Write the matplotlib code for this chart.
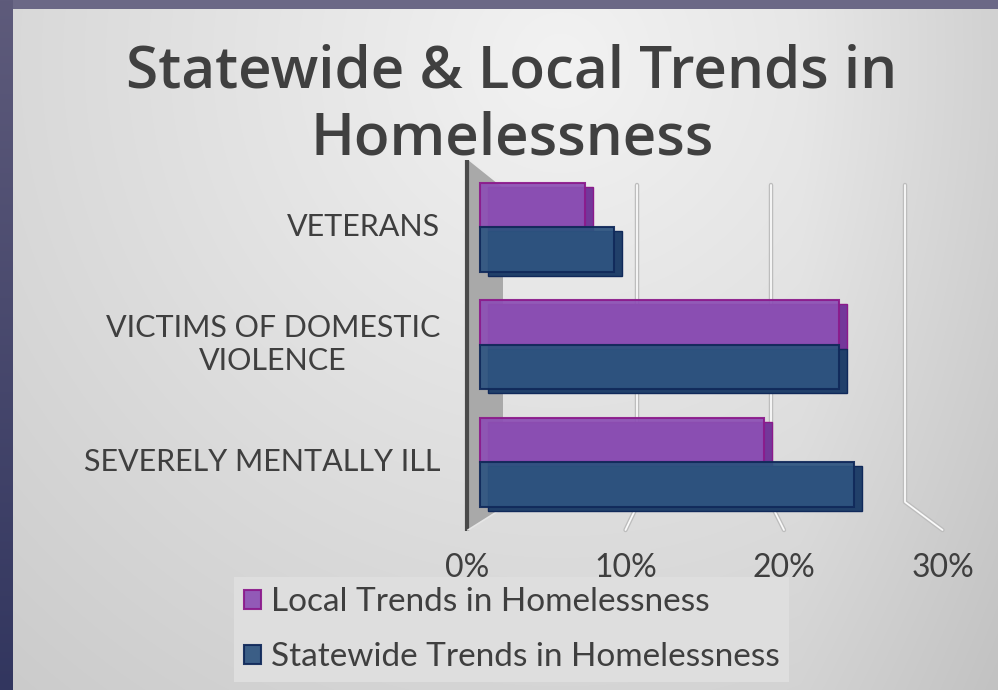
import numpy as np
import matplotlib
matplotlib.use("Agg")
import matplotlib.pyplot as plt
from matplotlib.patches import Rectangle, Polygon

# ---------------- data ----------------
categories = ["VETERANS", "VICTIMS OF DOMESTIC\nVIOLENCE", "SEVERELY MENTALLY ILL"]
local_vals = [7, 24, 19]        # Local Trends in Homelessness (%)
state_vals = [9, 24, 25]        # Statewide Trends in Homelessness (%)
tick_vals = [0, 10, 20, 30]
tick_labels = ["0%", "10%", "20%", "30%"]
series_names = ["Local Trends in Homelessness", "Statewide Trends in Homelessness"]
title = "Statewide & Local Trends in\nHomelessness"

# ---------------- figure ----------------
W, H = 998, 690
fig = plt.figure(figsize=(W / 100, H / 100), dpi=100)

# background (slide)
bg = fig.add_axes([0, 0, 1, 1])
bg.set_xlim(0, W)
bg.set_ylim(H, 0)
bg.axis("off")
yy, xx = np.mgrid[0:H, 0:W]
d = np.sqrt(((xx - 560) / 600.0) ** 2 + ((yy - 60) / 600.0) ** 2)
v = 0.95 - 0.11 * d - 0.05 * np.clip((xx - 800) / 200.0, 0, 1)
img = np.dstack([v, v, v])
bg.imshow(img, extent=[0, W, H, 0], aspect="auto", zorder=0)
# top strip
bg.add_patch(Rectangle((0, 0), W, 9, facecolor="#6b6886", edgecolor="none", zorder=1))
# left strip gradient
left = np.linspace(0, 1, H)[:, None]
c_top = np.array([0x5e, 0x5b, 0x7b]) / 255
c_bot = np.array([0x32, 0x36, 0x5f]) / 255
strip = c_top[None, None, :] * (1 - left[:, :, None]) + c_bot[None, None, :] * left[:, :, None]
strip = np.repeat(strip, 2, axis=1)
bg.imshow(strip, extent=[0, 13, H, 0], aspect="auto", zorder=1)
bg.set_xlim(0, W)
bg.set_ylim(H, 0)

# ---------------- chart axes ----------------
X0, SX = 480.0, 14.94     # px of zero on bar front plane, px per percent
Y0, SY = 227.0, 117.5     # px of first category centre, px per category
AL, AR, AT, AB = 440, 980, 150, 600
ax = fig.add_axes([AL / W, (H - AB) / H, (AR - AL) / W, (AB - AT) / H])
ax.set_xlim((AL - X0) / SX, (AR - X0) / SX)
ax.set_ylim((AB - Y0) / SY, (AT - Y0) / SY)
ax.axis("off")
ax.patch.set_alpha(0)

def px2x(p):
    return (p - X0) / SX

def py2y(p):
    return (p - Y0) / SY

# back wall
wall = Polygon([(px2x(468), py2y(160)), (px2x(503), py2y(188)),
                (px2x(503), py2y(508)), (px2x(468), py2y(530))],
               closed=True, facecolor="#a9a9a9", edgecolor="none", zorder=1)
ax.add_patch(wall)
ax.plot([px2x(467), px2x(467)], [py2y(160), py2y(531)], color="#4a4a4a", lw=3,
        solid_capstyle="butt", zorder=2)
ax.plot([px2x(468), px2x(503)], [py2y(530), py2y(508)], color="#e6e6e6", lw=1.2, zorder=2)

# perspective grid lines (back plane + floor)
for t in tick_vals[1:]:
    bx = 503 + t * 13.4
    by = 508 - t * 0.2
    fx = 467 + t * 15.85
    xs = [px2x(bx), px2x(bx), px2x(fx)]
    ys = [py2y(185), py2y(by), py2y(530)]
    ax.plot(xs, ys, color="#bdbdbd", lw=3.2, solid_capstyle="round", zorder=2)
    ax.plot(xs, ys, color="#fafafa", lw=1.3, solid_capstyle="round", zorder=2)

# bars
ypos = np.arange(len(categories))
bh = 44.5 / SY
dx, dy = 8 / SX, 4 / SY
purple, purple_edge, purple_back = "#8c50b4", "#8b1a8b", "#74379a"
blue, blue_edge, blue_back = "#2e5480", "#10295a", "#21406a"

# back (depth) faces
ax.barh(ypos - bh / 2 + dy, local_vals, height=bh, left=dx, color=purple_back,
        edgecolor=purple_edge, linewidth=1, zorder=3)
ax.barh(ypos + bh / 2 + dy, state_vals, height=bh, left=dx, color=blue_back,
        edgecolor=blue_edge, linewidth=1, zorder=3)
# front faces
ax.barh(ypos - bh / 2, local_vals, height=bh, color=purple, edgecolor=purple_edge,
        linewidth=1.5, alpha=0.93, zorder=4, label=series_names[0])
ax.barh(ypos + bh / 2, state_vals, height=bh, color=blue, edgecolor=blue_edge,
        linewidth=1.5, alpha=0.93, zorder=4, label=series_names[1])

# category labels
fam = ["Lato", "DejaVu Sans"]
for yv, lab in zip(ypos, categories):
    ax.text(px2x(440), yv, lab, ha="right", va="center", multialignment="center",
            fontsize=22, color="#3f3f3f", family=fam, fontweight="normal",
            linespacing=1.2, zorder=5)

# tick labels
for t, lab in zip(tick_vals, tick_labels):
    ax.text(px2x(467 + t * 15.85), py2y(568), lab, ha="center", va="center",
            fontsize=23, color="#3f3f3f", family=fam, fontweight="normal", zorder=5)

# title
fig.text(512 / W, 1 - 106 / H, title, ha="center", va="center", fontsize=42,
         color="#404040", family=["Open Sans", "DejaVu Sans"], fontweight="semibold",
         linespacing=1.22)

# legend
handles, labels = ax.get_legend_handles_labels()
leg = fig.legend(handles, labels, loc="upper left",
                 bbox_to_anchor=(234 / W, 1 - 577 / H), frameon=True,
                 prop={"family": fam, "size": 24, "weight": "normal"},
                 handlelength=0.5, handleheight=0.5, handletextpad=0.3,
                 borderpad=0.3, labelspacing=0.75, borderaxespad=0)
leg.get_frame().set_facecolor("#dedede")
leg.get_frame().set_edgecolor("none")
leg.get_frame().set_alpha(1)
leg.get_frame().set_boxstyle("square", pad=0)
for txt in leg.get_texts():
    txt.set_color("#3f3f3f")

fig.savefig("out.png", dpi=100)
